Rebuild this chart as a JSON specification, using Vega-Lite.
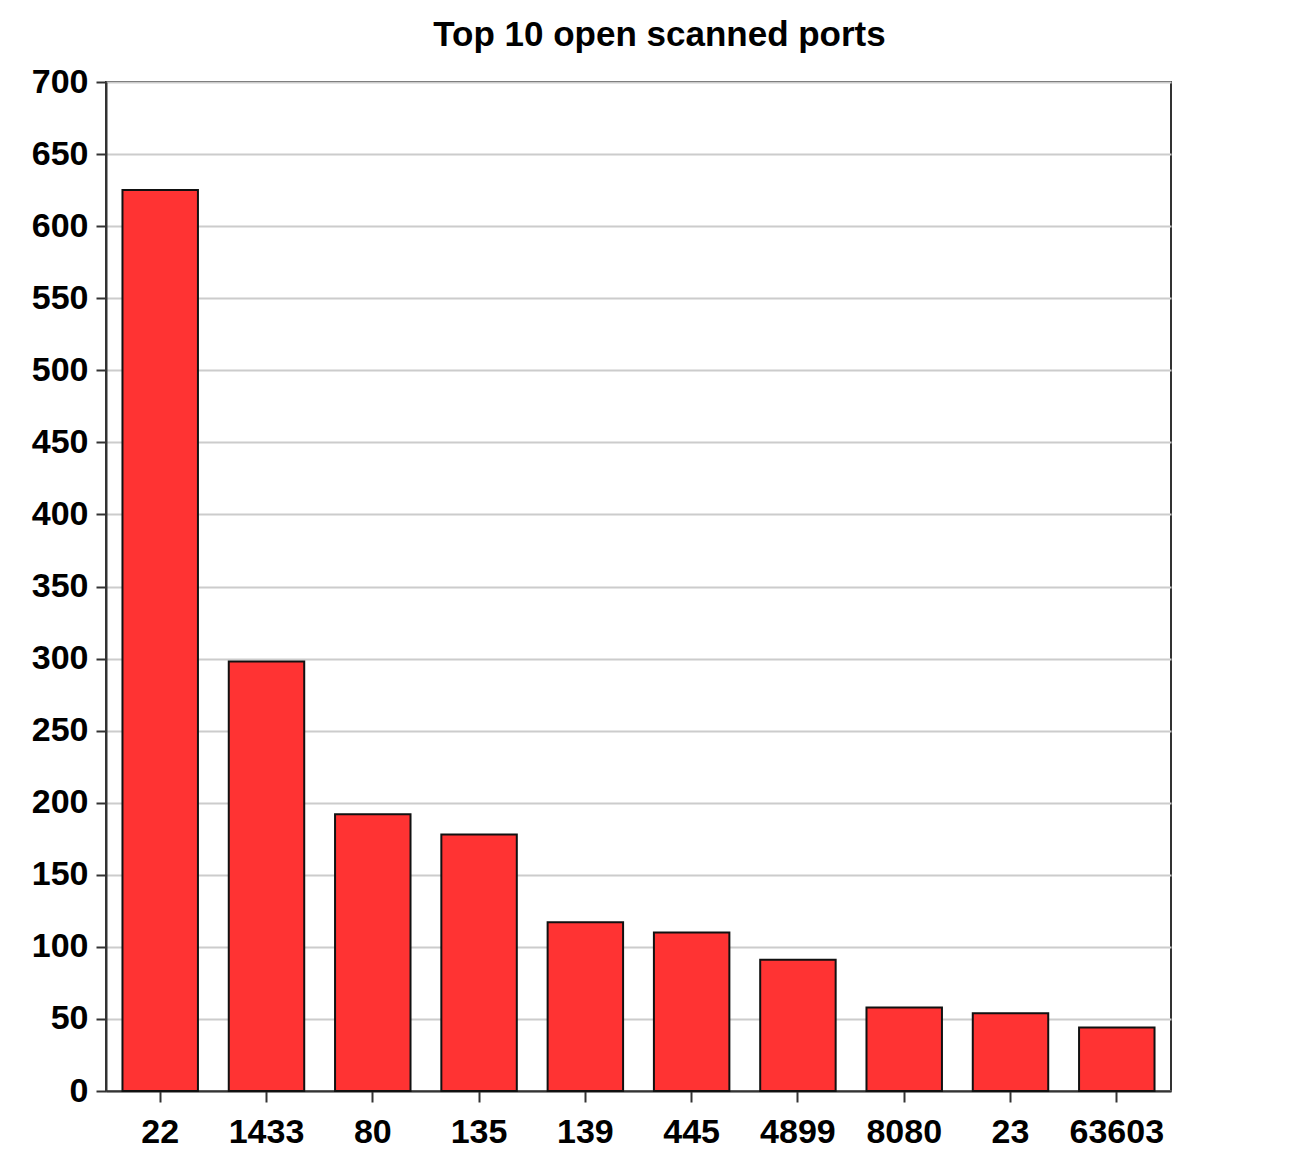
{
  "$schema": "https://vega.github.io/schema/vega-lite/v6.json",
  "autosize": {"type": "none"},
  "width": 1065,
  "height": 1009,
  "padding": {"left": 106, "top": 82, "right": 126, "bottom": 77},
  "background": "white",
  "title": {
    "text": "Top 10 open scanned ports",
    "font": "Liberation Sans",
    "fontSize": 35,
    "fontWeight": "bold",
    "color": "#000000",
    "anchor": "middle",
    "dx": 21,
    "offset": 12
  },
  "data": {
    "values": [
      {"port": "22", "count": 625},
      {"port": "1433", "count": 298},
      {"port": "80", "count": 192},
      {"port": "135", "count": 178},
      {"port": "139", "count": 117},
      {"port": "445", "count": 110},
      {"port": "4899", "count": 91},
      {"port": "8080", "count": 58},
      {"port": "23", "count": 54},
      {"port": "63603", "count": 44}
    ]
  },
  "mark": {"type": "bar", "fill": "#ff3333", "stroke": "#111111", "strokeWidth": 2},
  "encoding": {
    "x": {
      "field": "port",
      "type": "nominal",
      "sort": null,
      "title": null,
      "scale": {"paddingInner": 0.29, "paddingOuter": 0.155},
      "axis": {
        "labelAngle": 0,
        "labelFont": "Liberation Sans",
        "labelFontSize": 34,
        "labelFontWeight": "bold",
        "labelColor": "#000000",
        "labelPadding": 13,
        "tickSize": 11,
        "tickWidth": 2,
        "tickColor": "#333333",
        "domainColor": "#333333",
        "domainWidth": 2,
        "grid": false
      }
    },
    "y": {
      "field": "count",
      "type": "quantitative",
      "title": null,
      "scale": {"domain": [0, 700], "nice": false},
      "axis": {
        "values": [0, 50, 100, 150, 200, 250, 300, 350, 400, 450, 500, 550, 600, 650, 700],
        "labelFont": "Liberation Sans",
        "labelFontSize": 34,
        "labelFontWeight": "bold",
        "labelColor": "#000000",
        "labelPadding": 8,
        "tickSize": 10,
        "tickWidth": 2,
        "tickColor": "#333333",
        "domainColor": "#333333",
        "domainWidth": 2,
        "grid": true,
        "gridColor": "#cccccc",
        "gridWidth": 2
      }
    }
  },
  "config": {
    "view": {"stroke": "#333333", "strokeWidth": 2}
  }
}
